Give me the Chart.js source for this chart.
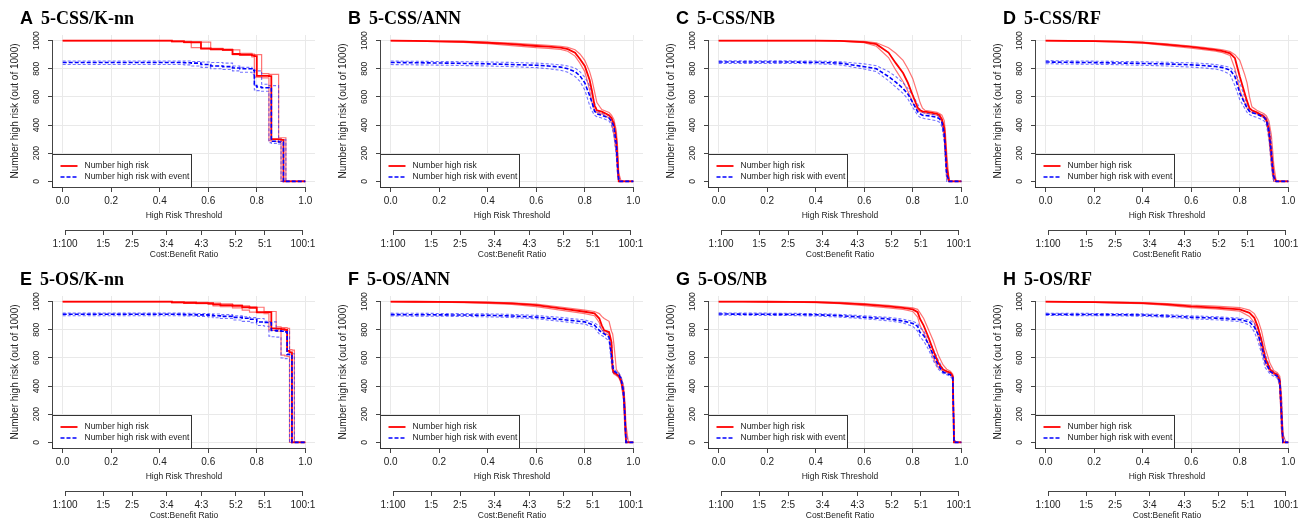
<!DOCTYPE html>
<html>
<head>
<meta charset="utf-8">
<script src="https://cdn.jsdelivr.net/npm/chart.js@4.4.1/dist/chart.umd.min.js"></script>
<style>
  body { margin: 0; background: #fff; width: 1306px; height: 522px; position: relative; overflow: hidden; }
  .panel { position: absolute; width: 323px; height: 260px; }
  .panel canvas { position: absolute; left: 0; top: 0; }
  .ttl { position: absolute; left: 20px; top: 8px; white-space: nowrap; color: #000; line-height: 20px; }
  .ttl b { font: bold 18px 'Liberation Sans', Arial, sans-serif; }
  .ttl span { font: bold 18px 'Liberation Serif', 'Times New Roman', serif; margin-left: 8px; }
</style>
</head>
<body>
<script>
// axis ticks
var thresholdTicks = [0, 0.2, 0.4, 0.6, 0.8, 1.0];
var riskTicks = [0, 200, 400, 600, 800, 1000];
var ratioLabels = ['1:100', '1:5', '2:5', '3:4', '4:3', '5:2', '5:1', '100:1'];
var ratioAt = [1 / 101, 1 / 6, 2 / 7, 3 / 7, 4 / 7, 5 / 7, 5 / 6, 100 / 101];

// A 5-CSS/K-nn (step curves)
var thrA = [0, 0.40, 0.45, 0.50, 0.53, 0.57, 0.61, 0.66, 0.70, 0.73, 0.78, 0.79, 0.80, 0.82, 0.85, 0.86, 0.87, 0.89, 0.90, 0.91, 0.92, 1.0];
var redA = [1000, 1000, 995, 990, 988, 945, 940, 935, 905, 900, 895, 890, 750, 750, 748, 300, 300, 298, 295, 0, 0, 0];
var redLoA = [1000, 1000, 993, 985, 950, 940, 935, 930, 900, 895, 885, 740, 740, 735, 290, 285, 285, 280, 0, 0, 0, 0];
var redHiA = [1000, 1000, 998, 995, 993, 990, 945, 940, 935, 910, 905, 900, 900, 765, 760, 760, 760, 310, 310, 310, 0, 0];
var blueA = [845, 845, 845, 843, 840, 830, 820, 815, 805, 800, 790, 680, 670, 665, 660, 285, 285, 280, 278, 0, 0, 0];
var blueLoA = [830, 830, 830, 828, 820, 810, 800, 795, 785, 775, 760, 650, 645, 640, 275, 270, 270, 265, 0, 0, 0, 0];
var blueHiA = [855, 855, 855, 855, 852, 848, 845, 840, 820, 810, 800, 790, 785, 690, 680, 680, 680, 300, 295, 295, 0, 0];

// thresholds shared by B, C, D
var thrCSS = [0, 0.1, 0.2, 0.3, 0.4, 0.5, 0.6, 0.65, 0.7, 0.73, 0.76, 0.78, 0.80, 0.82, 0.83, 0.84, 0.85, 0.87, 0.9, 0.91, 0.92, 0.93, 0.935, 0.94, 0.95, 1.0];

// B 5-CSS/ANN
var redB = [1000, 998, 995, 992, 985, 975, 962, 957, 950, 940, 915, 870, 820, 720, 640, 540, 505, 495, 470, 450, 410, 300, 150, 0, 0, 0];
var redHiB = [1000, 999, 997, 994, 990, 982, 972, 967, 960, 952, 935, 905, 860, 780, 720, 640, 560, 510, 490, 470, 440, 360, 250, 60, 0, 0];
var redLoB = [1000, 997, 993, 988, 978, 965, 950, 945, 938, 925, 890, 840, 780, 650, 560, 510, 490, 480, 450, 420, 330, 200, 60, 0, 0, 0];
var blueB = [845, 843, 841, 838, 835, 830, 825, 820, 812, 800, 780, 750, 700, 610, 560, 500, 480, 470, 450, 430, 390, 260, 120, 0, 0, 0];
var blueHiB = [855, 853, 852, 850, 848, 845, 840, 835, 828, 820, 805, 780, 740, 680, 620, 560, 500, 485, 465, 450, 420, 330, 200, 30, 0, 0];
var blueLoB = [830, 828, 826, 823, 820, 815, 808, 800, 790, 775, 745, 710, 650, 540, 500, 470, 460, 450, 430, 400, 330, 180, 50, 0, 0, 0];

// C 5-CSS/NB
var redC = [1000, 1000, 1000, 1000, 1000, 998, 990, 975, 915, 840, 770, 700, 610, 525, 505, 497, 495, 490, 480, 470, 440, 380, 250, 100, 0, 0];
var redHiC = [1000, 1000, 1000, 1000, 1000, 999, 995, 985, 950, 910, 860, 800, 730, 620, 560, 520, 505, 500, 490, 482, 470, 430, 330, 200, 0, 0];
var redLoC = [1000, 1000, 1000, 1000, 1000, 997, 985, 960, 880, 790, 710, 640, 560, 510, 495, 490, 487, 480, 470, 460, 420, 300, 150, 20, 0, 0];
var blueC = [848, 848, 848, 848, 846, 840, 815, 800, 745, 705, 660, 620, 560, 495, 480, 470, 468, 465, 455, 445, 420, 340, 200, 50, 0, 0];
var blueHiC = [856, 856, 856, 856, 855, 850, 835, 822, 780, 745, 700, 660, 610, 550, 510, 490, 485, 480, 470, 460, 440, 380, 260, 120, 0, 0];
var blueLoC = [838, 838, 838, 838, 836, 828, 798, 780, 715, 670, 625, 585, 525, 470, 455, 450, 445, 440, 430, 420, 390, 280, 130, 0, 0, 0];

// D 5-CSS/RF
var redD = [1000, 998, 996, 993, 986, 972, 955, 945, 934, 925, 910, 875, 745, 627, 570, 520, 505, 490, 461, 438, 367, 203, 120, 35, 0, 0];
var redHiD = [1000, 999, 998, 995, 990, 978, 962, 952, 942, 935, 922, 900, 860, 760, 700, 600, 530, 505, 480, 465, 430, 330, 230, 120, 0, 0];
var redLoD = [1000, 997, 994, 990, 982, 965, 946, 936, 925, 915, 895, 800, 650, 560, 520, 500, 490, 480, 450, 420, 320, 120, 50, 0, 0, 0];
var blueD = [848, 846, 844, 841, 838, 834, 828, 823, 816, 808, 792, 745, 627, 556, 520, 497, 488, 478, 455, 430, 360, 200, 100, 30, 0, 0];
var blueHiD = [858, 856, 854, 852, 850, 846, 842, 838, 830, 822, 810, 780, 700, 600, 540, 510, 498, 488, 470, 450, 400, 280, 160, 60, 0, 0];
var blueLoD = [836, 834, 832, 829, 825, 820, 812, 806, 798, 785, 760, 680, 580, 520, 490, 475, 465, 455, 430, 400, 300, 120, 40, 0, 0, 0];

// E 5-OS/K-nn (step curves)
var thrE = [0, 0.40, 0.45, 0.50, 0.55, 0.60, 0.62, 0.65, 0.70, 0.74, 0.77, 0.80, 0.83, 0.85, 0.86, 0.88, 0.90, 0.915, 0.925, 0.935, 0.945, 0.955, 1.0];
var redE = [1000, 1000, 995, 992, 990, 988, 980, 975, 970, 960, 955, 925, 925, 925, 810, 808, 805, 800, 650, 640, 0, 0, 0];
var redHiE = [1000, 1000, 1000, 997, 995, 993, 990, 985, 978, 970, 965, 960, 930, 930, 930, 820, 815, 815, 810, 660, 655, 0, 0];
var redLoE = [1000, 1000, 992, 988, 985, 980, 970, 965, 955, 940, 925, 920, 915, 800, 795, 790, 620, 615, 610, 0, 0, 0, 0];
var blueE = [910, 910, 910, 908, 906, 904, 900, 895, 888, 882, 875, 855, 852, 850, 795, 792, 790, 785, 625, 615, 0, 0, 0];
var blueHiE = [918, 918, 918, 917, 916, 914, 912, 908, 900, 893, 886, 880, 860, 858, 856, 800, 798, 797, 795, 640, 630, 0, 0];
var blueLoE = [900, 900, 900, 898, 895, 892, 885, 880, 870, 860, 850, 830, 825, 755, 750, 748, 600, 595, 590, 0, 0, 0, 0];

// F 5-OS/ANN
var thrF = [0, 0.1, 0.2, 0.3, 0.4, 0.5, 0.6, 0.7, 0.8, 0.84, 0.86, 0.87, 0.88, 0.9, 0.91, 0.915, 0.92, 0.93, 0.94, 0.95, 0.96, 0.965, 0.97, 0.98, 1.0];
var redF = [1000, 999, 998, 996, 993, 987, 975, 952, 928, 916, 880, 832, 796, 784, 712, 520, 496, 485, 472, 436, 352, 208, 0, 0, 0];
var redHiF = [1000, 1000, 999, 998, 996, 992, 982, 962, 940, 930, 915, 895, 880, 860, 790, 770, 700, 520, 490, 460, 400, 300, 120, 0, 0];
var redLoF = [1000, 998, 996, 993, 988, 980, 965, 940, 915, 900, 850, 800, 780, 760, 600, 500, 485, 475, 460, 420, 300, 100, 0, 0, 0];
var blueF = [908, 907, 906, 905, 903, 898, 890, 874, 856, 832, 796, 780, 772, 748, 616, 540, 508, 495, 484, 448, 352, 200, 0, 0, 0];
var blueHiF = [918, 917, 916, 915, 913, 909, 902, 888, 870, 850, 825, 800, 790, 775, 720, 600, 520, 505, 495, 465, 400, 280, 60, 0, 0];
var blueLoF = [898, 897, 896, 895, 892, 887, 878, 860, 840, 815, 770, 760, 750, 720, 560, 500, 490, 480, 470, 430, 300, 120, 0, 0, 0];

// G 5-OS/NB
var thrG = [0, 0.1, 0.2, 0.3, 0.4, 0.5, 0.6, 0.7, 0.76, 0.8, 0.82, 0.83, 0.845, 0.865, 0.885, 0.905, 0.925, 0.94, 0.955, 0.965, 0.97, 0.98, 1.0];
var redG = [1000, 1000, 999, 998, 996, 990, 980, 966, 955, 945, 925, 877, 830, 745, 650, 565, 518, 505, 494, 470, 0, 0, 0];
var redHiG = [1000, 1000, 1000, 999, 998, 994, 986, 973, 963, 955, 945, 920, 880, 800, 720, 620, 550, 520, 505, 485, 20, 0, 0];
var redLoG = [1000, 999, 998, 996, 993, 985, 972, 956, 945, 930, 890, 830, 780, 700, 600, 530, 505, 495, 485, 455, 0, 0, 0];
var blueG = [912, 911, 910, 909, 907, 900, 889, 877, 862, 845, 825, 781, 760, 697, 620, 548, 500, 488, 480, 460, 0, 0, 0];
var blueHiG = [920, 919, 918, 917, 915, 909, 899, 888, 875, 860, 845, 815, 790, 735, 660, 585, 520, 500, 490, 475, 15, 0, 0];
var blueLoG = [904, 903, 902, 901, 898, 890, 878, 864, 848, 825, 790, 750, 720, 660, 580, 520, 490, 480, 470, 445, 0, 0, 0];

// H 5-OS/RF
var thrH = [0, 0.1, 0.2, 0.3, 0.4, 0.5, 0.6, 0.7, 0.8, 0.84, 0.86, 0.875, 0.89, 0.905, 0.925, 0.94, 0.955, 0.965, 0.972, 0.978, 0.99, 1.0];
var redH = [1000, 998, 996, 993, 989, 980, 966, 958, 945, 920, 885, 817, 721, 601, 518, 495, 480, 440, 200, 0, 0, 0];
var redHiH = [1000, 999, 998, 996, 993, 986, 975, 968, 958, 940, 915, 870, 790, 670, 560, 510, 495, 470, 330, 60, 0, 0];
var redLoH = [1000, 997, 994, 990, 985, 974, 958, 948, 932, 895, 850, 760, 660, 560, 500, 485, 465, 400, 80, 0, 0, 0];
var blueH = [910, 909, 908, 907, 905, 898, 889, 883, 872, 855, 820, 770, 685, 575, 505, 485, 470, 430, 200, 0, 0, 0];
var blueHiH = [918, 917, 916, 915, 913, 907, 899, 893, 883, 870, 845, 805, 735, 625, 530, 500, 485, 455, 320, 50, 0, 0];
var blueLoH = [902, 901, 900, 899, 896, 889, 878, 871, 858, 835, 785, 720, 630, 530, 485, 470, 455, 400, 80, 0, 0, 0];

var panels = [
  { letter: 'A', name: '5-CSS/K-nn', t: thrA, red: redA, redLo: redLoA, redHi: redHiA, blue: blueA, blueLo: blueLoA, blueHi: blueHiA, stepped: true },
  { letter: 'B', name: '5-CSS/ANN', t: thrCSS, red: redB, redLo: redLoB, redHi: redHiB, blue: blueB, blueLo: blueLoB, blueHi: blueHiB },
  { letter: 'C', name: '5-CSS/NB', t: thrCSS, red: redC, redLo: redLoC, redHi: redHiC, blue: blueC, blueLo: blueLoC, blueHi: blueHiC },
  { letter: 'D', name: '5-CSS/RF', t: thrCSS, red: redD, redLo: redLoD, redHi: redHiD, blue: blueD, blueLo: blueLoD, blueHi: blueHiD },
  { letter: 'E', name: '5-OS/K-nn', t: thrE, red: redE, redLo: redLoE, redHi: redHiE, blue: blueE, blueLo: blueLoE, blueHi: blueHiE, stepped: true },
  { letter: 'F', name: '5-OS/ANN', t: thrF, red: redF, redLo: redLoF, redHi: redHiF, blue: blueF, blueLo: blueLoF, blueHi: blueHiF },
  { letter: 'G', name: '5-OS/NB', t: thrG, red: redG, redLo: redLoG, redHi: redHiG, blue: blueG, blueLo: blueLoG, blueHi: blueHiG },
  { letter: 'H', name: '5-OS/RF', t: thrH, red: redH, redLo: redLoH, redHi: redHiH, blue: blueH, blueLo: blueLoH, blueHi: blueHiH }
];

var colLeft = [0, 328, 656, 983];
var rowTop = [0, 261];

var sans = "'Liberation Sans', Arial, sans-serif";
var textColor = '#222';
var axisColor = '#444';
var gridColor = '#e9e9e9';

// R-style axis lines: only from first to last tick
var rAxes = {
  id: 'rAxes',
  afterDraw: function(chart) {
    var ctx = chart.ctx, s = chart.scales, a = chart.chartArea;
    ctx.save();
    ctx.strokeStyle = axisColor;
    ctx.lineWidth = 1;
    ctx.beginPath();
    var yb = Math.round(a.bottom) + 0.5;
    ctx.moveTo(s.x.getPixelForValue(0), yb);
    ctx.lineTo(s.x.getPixelForValue(1), yb);
    var xl = Math.round(a.left) - 0.5;
    ctx.moveTo(xl, s.y.getPixelForValue(0));
    ctx.lineTo(xl, s.y.getPixelForValue(1000));
    var y2 = Math.round(s.x2.top) + 0.5;
    ctx.moveTo(s.x2.getPixelForValue(ratioAt[0]), y2);
    ctx.lineTo(s.x2.getPixelForValue(ratioAt[ratioAt.length - 1]), y2);
    ctx.stroke();
    ctx.restore();
  }
};

// boxed legend in the bottom-left corner of the plot region
var legendBox = {
  id: 'legendBox',
  afterDatasetsDraw: function(chart) {
    var ctx = chart.ctx, a = chart.chartArea;
    var w = 139, h = 33, x = Math.round(a.left) - 0.5, y = Math.round(a.bottom) - h + 0.5;
    ctx.save();
    ctx.fillStyle = '#fff';
    ctx.fillRect(x, y, w, h);
    ctx.strokeStyle = '#333';
    ctx.lineWidth = 1;
    ctx.strokeRect(x, y, w, h);
    var items = chart.data.datasets.filter(function(d) { return d.inLegend; });
    items.sort(function(p, q) { return p.inLegend - q.inLegend; });
    ctx.font = '8.5px ' + sans;
    ctx.textBaseline = 'middle';
    items.forEach(function(d, i) {
      var ly = y + 11.5 + i * 11;
      ctx.strokeStyle = d.borderColor;
      ctx.lineWidth = d.borderWidth;
      ctx.setLineDash(d.borderDash || []);
      ctx.beginPath();
      ctx.moveTo(x + 8, ly);
      ctx.lineTo(x + 25, ly);
      ctx.stroke();
      ctx.setLineDash([]);
      ctx.fillStyle = textColor;
      ctx.fillText(d.label, x + 32, ly);
    });
    ctx.restore();
  }
};

function series(t, v) {
  return t.map(function(x, i) { return { x: x, y: v[i] }; });
}

function fixedTicks(values) {
  return function(scale) {
    scale.ticks = values.map(function(v) { return { value: v }; });
  };
}

panels.forEach(function(p, k) {
  var div = document.createElement('div');
  div.className = 'panel';
  div.style.left = colLeft[k % 4] + 'px';
  div.style.top = rowTop[Math.floor(k / 4)] + 'px';
  var canvas = document.createElement('canvas');
  canvas.width = 323;
  canvas.height = 260;
  div.appendChild(canvas);
  var ttl = document.createElement('div');
  ttl.className = 'ttl';
  ttl.innerHTML = '<b>' + p.letter + '</b><span>' + p.name + '</span>';
  div.appendChild(ttl);
  document.body.appendChild(div);

  var base = { xAxisID: 'x', yAxisID: 'y', pointRadius: 0, tension: 0, fill: false, stepped: !!p.stepped };
  var ds = [
    Object.assign({}, base, { label: 'Number high risk with event', data: series(p.t, p.blue), borderColor: '#0000ff', borderWidth: 1.6, borderDash: [4, 2], inLegend: 2 }),
    Object.assign({}, base, { label: 'Number high risk', data: series(p.t, p.red), borderColor: '#ff0000', borderWidth: 1.8, inLegend: 1 }),
    Object.assign({}, base, { label: 'event lower', data: series(p.t, p.blueLo), borderColor: 'rgba(40,40,255,0.65)', borderWidth: 1.1, borderDash: [3, 2] }),
    Object.assign({}, base, { label: 'event upper', data: series(p.t, p.blueHi), borderColor: 'rgba(40,40,255,0.65)', borderWidth: 1.1, borderDash: [3, 2] }),
    Object.assign({}, base, { label: 'risk lower', data: series(p.t, p.redLo), borderColor: 'rgba(255,40,40,0.65)', borderWidth: 1.2 }),
    Object.assign({}, base, { label: 'risk upper', data: series(p.t, p.redHi), borderColor: 'rgba(255,40,40,0.65)', borderWidth: 1.2 })
  ];

  new Chart(canvas, {
    type: 'line',
    data: { datasets: ds },
    options: {
      responsive: false,
      animation: false,
      layout: { padding: { top: 35, right: 8, left: 0, bottom: 0 } },
      plugins: { legend: { display: false }, tooltip: { enabled: false }, title: { display: false } },
      scales: {
        x: {
          type: 'linear', position: 'bottom', min: -0.04, max: 1.04,
          afterBuildTicks: fixedTicks(thresholdTicks),
          afterFit: function(s) { s.height = 43; },
          grid: { color: gridColor, tickColor: axisColor, tickLength: 5, tickWidth: 1 },
          border: { display: false },
          ticks: { autoSkip: false, maxRotation: 0, padding: 3, color: textColor, font: { size: 10, family: sans },
                   callback: function(v) { return Number(v).toFixed(1); } },
          title: { display: true, text: 'High Risk Threshold', color: textColor, font: { size: 8.5, family: sans }, padding: { top: 0, bottom: 9 } }
        },
        x2: {
          type: 'linear', position: 'bottom', weight: 1, min: -0.04, max: 1.04,
          afterBuildTicks: fixedTicks(ratioAt),
          afterFit: function(s) { s.height = 30; },
          grid: { drawOnChartArea: false, tickColor: axisColor, tickLength: 5, tickWidth: 1 },
          border: { display: false },
          ticks: { autoSkip: false, maxRotation: 0, padding: 3, color: textColor, font: { size: 10, family: sans },
                   callback: function(v, i) { return ratioLabels[i]; } },
          title: { display: true, text: 'Cost:Benefit Ratio', color: textColor, font: { size: 8.5, family: sans }, padding: { top: 0, bottom: 0 } }
        },
        y: {
          type: 'linear', position: 'left', min: -40, max: 1040,
          afterBuildTicks: fixedTicks(riskTicks),
          afterFit: function(s) { s.width = 53; },
          grid: { color: gridColor, tickColor: axisColor, tickLength: 5, tickWidth: 1 },
          border: { display: false },
          ticks: { autoSkip: false, minRotation: 90, maxRotation: 90, crossAlign: 'center', padding: 2, color: textColor, font: { size: 8.5, family: sans },
                   callback: function(v) { return String(v); } },
          title: { display: true, text: 'Number high risk (out of 1000)', color: textColor, font: { size: 10, family: sans }, padding: { top: 9, bottom: 0 } }
        }
      }
    },
    plugins: [rAxes, legendBox]
  });
});
</script>
</body>
</html>
